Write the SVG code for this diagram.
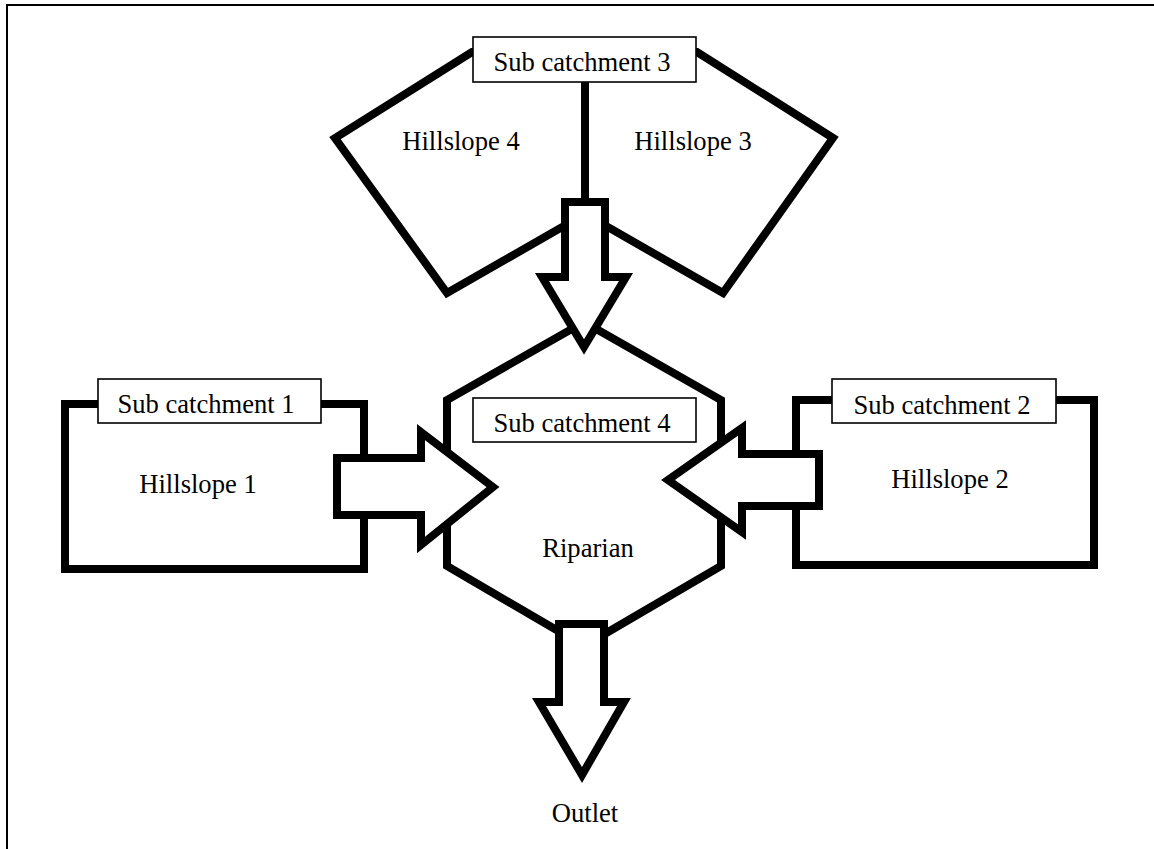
<svg xmlns="http://www.w3.org/2000/svg" width="1154" height="849" viewBox="0 0 1154 849">
<style>
.thick{fill:#fff;stroke:#000;stroke-width:8;stroke-linejoin:miter;stroke-miterlimit:10}
.box{fill:#fff;stroke:#000;stroke-width:1.6}
.t{font-family:"Liberation Serif","Times New Roman",serif;font-size:26.6px;fill:#000;text-anchor:middle}
</style>
<rect width="1154" height="849" fill="#fff"/>
<path d="M7,849 V5 H1154" fill="none" stroke="#000" stroke-width="2"/>

<g id="hillslope4">
<polygon class="thick" points="585,52 472,52 335,138 447,293 585,214"/>
<text class="t" x="461" y="150">Hillslope 4</text>
</g>
<g id="hillslope3">
<polygon class="thick" points="585,52 697,52 833,138 723,293 585,214"/>
<text class="t" x="693" y="150">Hillslope 3</text>
</g>
<g id="subcatchment3">
<rect class="box" x="473" y="37" width="223" height="45"/>
<text class="t" x="582" y="71">Sub catchment 3</text>
</g>

<g id="riparian">
<polygon class="thick" points="584,322 721,400 721,566 584,646 447,566 447,400"/>
<text class="t" x="588" y="557">Riparian</text>
</g>
<g id="subcatchment4">
<rect class="box" x="473" y="398" width="223" height="44"/>
<text class="t" x="582" y="432">Sub catchment 4</text>
</g>

<g id="hillslope1">
<rect class="thick" x="65" y="404" width="299" height="165"/>
<text class="t" x="198" y="493">Hillslope 1</text>
</g>
<g id="subcatchment1">
<rect class="box" x="98" y="379" width="223" height="44"/>
<text class="t" x="206" y="413">Sub catchment 1</text>
</g>

<g id="hillslope2">
<rect class="thick" x="796" y="400" width="298" height="165"/>
<text class="t" x="950" y="488">Hillslope 2</text>
</g>
<g id="subcatchment2">
<rect class="box" x="832" y="379" width="224" height="44"/>
<text class="t" x="942" y="414">Sub catchment 2</text>
</g>

<g id="outlet">
<text class="t" x="585" y="822">Outlet</text>
</g>

<g id="connectors">
<line x1="585" y1="82" x2="585" y2="202" stroke="#000" stroke-width="8"/>
<polygon class="thick" points="565,202 605,202 605,277 626,277 584,347 542,277 565,277"/>
<polygon class="thick" points="337,458 421,458 421,432 493,487 421,545 421,515 337,515"/>
<polygon class="thick" points="819,454 742,454 742,428 668,480 742,532 742,506 819,506"/>
<polygon class="thick" points="559,624 604,624 604,702 624,702 582,775 539,702 559,702"/>
</g>
</svg>
